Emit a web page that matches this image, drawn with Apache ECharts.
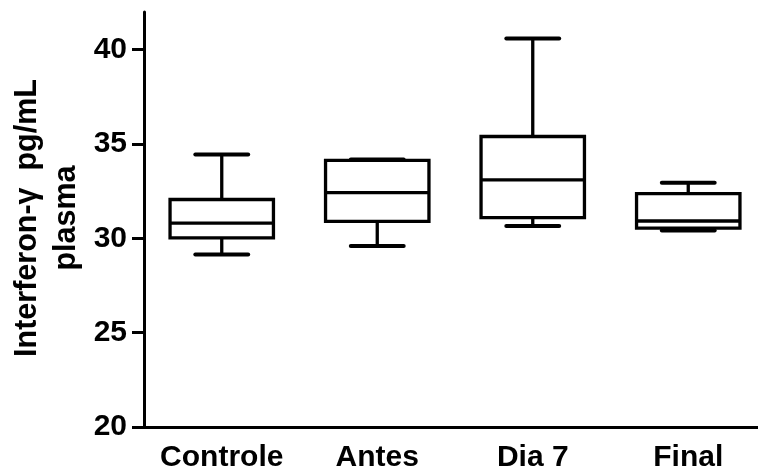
<!DOCTYPE html>
<html>
<head>
<meta charset="utf-8">
<script src="https://cdn.jsdelivr.net/npm/echarts@6/dist/echarts.min.js"></script>
<style>
html,body{margin:0;padding:0;background:#fff;}
#chart{width:758px;height:475px;}
</style>
</head>
<body>
<div id="chart"></div>
<script>
// Data
const categories = ['Controle', 'Antes', 'Dia 7', 'Final'];
const whiskerMin = [29.14, 29.59, 30.65, 30.42];
const q1 = [30.03, 30.90, 31.10, 30.54];
const median = [30.81, 32.42, 33.10, 30.92];
const q3 = [32.06, 34.13, 35.40, 32.37];
const whiskerMax = [34.44, 34.18, 40.60, 32.95];
const yTicks = [20, 25, 30, 35, 40];
const yTitle = 'Interferon-\u03b3  pg/mL\nplasma';

const boxData = categories.map((c, i) => [i, whiskerMin[i], q1[i], median[i], q3[i], whiskerMax[i]]);

const FONT = '"Liberation Sans", Arial, sans-serif';
const chart = echarts.init(document.getElementById('chart'), null, {renderer: 'canvas'});

chart.setOption({
  animation: false,
  backgroundColor: '#fff',
  grid: {left: 144, top: 12, right: -8, bottom: 48, containLabel: false, outerBoundsMode: 'none'},
  graphic: [{
    type: 'text',
    x: 47,
    y: 218,
    rotation: Math.PI / 2,
    style: {
      text: yTitle,
      fill: '#000',
      fontSize: 30.5,
      fontWeight: 'bold',
      fontFamily: FONT,
      lineHeight: 39,
      align: 'center',
      verticalAlign: 'middle'
    }
  }],
  xAxis: {
    type: 'category',
    data: categories,
    boundaryGap: true,
    axisLine: {lineStyle: {color: '#000', width: 3}},
    axisTick: {alignWithLabel: true, interval: 0, length: 12, lineStyle: {color: '#000', width: 3}},
    axisLabel: {interval: 0, hideOverlap: false, color: '#000', fontSize: 30, fontWeight: 'bold', fontFamily: FONT, margin: 16}
  },
  yAxis: {
    type: 'value',
    min: 20,
    max: 42,
    interval: 5,
    splitLine: {show: false},
    axisLine: {show: true, lineStyle: {color: '#000', width: 3}},
    axisTick: {show: true, length: 12, customValues: yTicks, lineStyle: {color: '#000', width: 3}},
    axisLabel: {color: '#000', fontSize: 30, fontWeight: 'bold', fontFamily: FONT, margin: 17, customValues: yTicks}
  },
  series: [{
    type: 'custom',
    data: boxData,
    encode: {x: 0, y: [1, 2, 3, 4, 5]},
    renderItem: function (params, api) {
      const idx = api.value(0);
      const band = api.size([1, 0])[0];
      const bw = band * 0.665 / 2;
      const cw = band * 0.34 / 2;
      const x = api.coord([idx, api.value(1)])[0];
      const y = k => api.coord([idx, api.value(k)])[1];
      const yMin = y(1), yQ1 = y(2), yMed = y(3), yQ3 = y(4), yMax = y(5);
      const ls = {stroke: '#000', lineWidth: 3.3, fill: null};
      const cs = {stroke: '#000', lineWidth: 4, lineCap: 'round', fill: null};
      return {
        type: 'group',
        children: [
          {type: 'line', shape: {x1: x, y1: yMax, x2: x, y2: yQ3}, style: ls},
          {type: 'line', shape: {x1: x, y1: yMin, x2: x, y2: yQ1}, style: ls},
          {type: 'line', shape: {x1: x - cw, y1: yMax, x2: x + cw, y2: yMax}, style: cs},
          {type: 'line', shape: {x1: x - cw, y1: yMin, x2: x + cw, y2: yMin}, style: cs},
          {type: 'rect', shape: {x: x - bw, y: yQ3, width: 2 * bw, height: yQ1 - yQ3}, style: {stroke: '#000', lineWidth: 3.3, fill: '#fff'}},
          {type: 'line', shape: {x1: x - bw, y1: yMed, x2: x + bw, y2: yMed}, style: ls}
        ]
      };
    }
  }]
});
</script>
</body>
</html>
